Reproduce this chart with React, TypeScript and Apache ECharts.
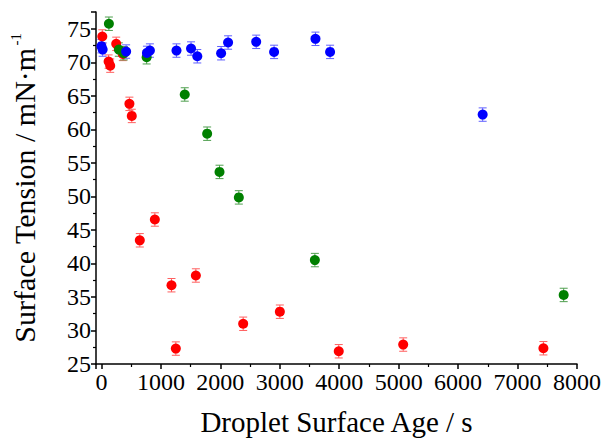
import React, { useEffect, useRef } from "react";
import * as echarts from "echarts";

const redX = [14, 120, 147, 248, 359, 470, 510, 645, 898, 1178, 1251, 1588, 2384, 3001, 3992, 5076, 7435];
const redY = [73.85, 70.1, 69.5, 72.75, 71.25, 63.8, 62.0, 43.45, 46.55, 36.75, 27.3, 38.2, 31.0, 32.8, 26.9, 27.9, 27.35];

const greenX = [125, 292, 376, 760, 1401, 1778, 1986, 2311, 3590, 7776];
const greenY = [75.75, 71.9, 71.35, 70.75, 65.2, 59.35, 53.65, 49.85, 40.5, 35.3];

const blueX = [0, 20, 415, 765, 815, 1262, 1507, 1612, 2013, 2130, 2603, 2904, 3600, 3846, 6413];
const blueY = [72.4, 71.9, 71.6, 71.4, 71.75, 71.75, 72.05, 70.9, 71.35, 72.95, 73.05, 71.55, 73.5, 71.55, 62.2];

const ERR = 1.0;

const xTitle = "Droplet Surface Age / s";
const yTitle = "Surface Tension / mN·m";
const ySup = "-1";

const FONT = "Liberation Serif";

function pts(xs: number[], ys: number[]) {
  return xs.map((x, i) => [x, ys[i], ERR]);
}

function errSeries(name: string, data: number[][], color: string) {
  return {
    type: "custom",
    name: name + "-err",
    data,
    encode: { x: 0, y: 1 },
    z: 1,
    silent: true,
    renderItem: (params: any, api: any) => {
      const x = api.value(0);
      const y = api.value(1);
      const e = api.value(2);
      const top = api.coord([x, y + e]);
      const bot = api.coord([x, y - e]);
      const hw = 4;
      const style = { stroke: color, lineWidth: 1, fill: "none" };
      return {
        type: "group",
        children: [
          { type: "line", shape: { x1: top[0], y1: top[1], x2: bot[0], y2: bot[1] }, style },
          { type: "line", shape: { x1: top[0] - hw, y1: top[1], x2: top[0] + hw, y2: top[1] }, style },
          { type: "line", shape: { x1: bot[0] - hw, y1: bot[1], x2: bot[0] + hw, y2: bot[1] }, style },
        ],
      };
    },
  };
}

function scatter(name: string, data: number[][], color: string, z: number) {
  return {
    type: "scatter",
    name,
    data,
    symbol: "circle",
    symbolSize: 10,
    itemStyle: { color, opacity: 1 },
    z,
  };
}

export default function App() {
  const ref = useRef<HTMLDivElement>(null);
  useEffect(() => {
    if (!ref.current) return;
    const chart = echarts.init(ref.current, undefined, { renderer: "svg" });
    const red = pts(redX, redY);
    const green = pts(greenX, greenY);
    const blue = pts(blueX, blueY);
    chart.setOption({
      animation: false,
      backgroundColor: "#ffffff",
      textStyle: { fontFamily: FONT, color: "#000" },
      grid: { left: 93, right: 30, top: 12, bottom: 80, containLabel: false },
      xAxis: {
        type: "value",
        min: -92,
        max: 8000,
        splitNumber: 8,
        minInterval: 1000,
        maxInterval: 1000,
        name: xTitle,
        nameLocation: "middle",
        nameGap: 43,
        nameTextStyle: { fontFamily: FONT, fontSize: 29, color: "#000" },
        axisLine: { show: true, onZero: false, lineStyle: { color: "#000", width: 1.5 } },
        axisTick: { show: true, inside: false, length: 5, lineStyle: { color: "#000", width: 1.5 } },
        minorTick: { show: true, splitNumber: 2, length: 3, lineStyle: { color: "#000", width: 1.2 } },
        axisLabel: {
          fontFamily: FONT,
          fontSize: 24,
          color: "#000",
          margin: 6,
          showMinLabel: false,
          hideOverlap: false,
          formatter: (v: number) => String(Math.round(v)),
        },
        splitLine: { show: false },
      },
      yAxis: {
        type: "value",
        min: 25,
        max: 77.5,
        splitNumber: 10,
        minInterval: 5,
        maxInterval: 5,
        name: "{a|" + yTitle + "}{s|" + ySup + "}",
        nameLocation: "middle",
        nameGap: 56,
        nameRotate: 90,
        nameTextStyle: {
          fontFamily: FONT,
          fontSize: 30,
          color: "#000",
          rich: {
            a: { fontFamily: FONT, fontSize: 30, color: "#000", lineHeight: 32 },
            s: { fontFamily: FONT, fontSize: 15, color: "#000", verticalAlign: "top", lineHeight: 32, padding: [0, 0, 12, 2] },
          },
        },
        axisLine: { show: true, onZero: false, lineStyle: { color: "#000", width: 1.5 } },
        axisTick: { show: true, inside: false, length: 5, lineStyle: { color: "#000", width: 1.5 } },
        minorTick: { show: true, splitNumber: 2, length: 3, lineStyle: { color: "#000", width: 1.2 } },
        axisLabel: {
          fontFamily: FONT,
          fontSize: 24,
          color: "#000",
          margin: 5,
          showMaxLabel: false,
          hideOverlap: false,
          formatter: (v: number) => String(Math.round(v)),
        },
        splitLine: { show: false },
      },
      series: [
        errSeries("red", red, "#ff6060"),
        errSeries("green", green, "#4f9f4f"),
        errSeries("blue", blue, "#6060ff"),
        scatter("red", red, "#ff0000", 3),
        scatter("green", green, "#008000", 4),
        scatter("blue", blue, "#0000ff", 5),
      ],
    });
    return () => chart.dispose();
  }, []);
  return (
    <div
      ref={ref}
      style={{ position: "fixed", left: 0, top: 0, width: 607, height: 444, background: "#fff" }}
    />
  );
}
